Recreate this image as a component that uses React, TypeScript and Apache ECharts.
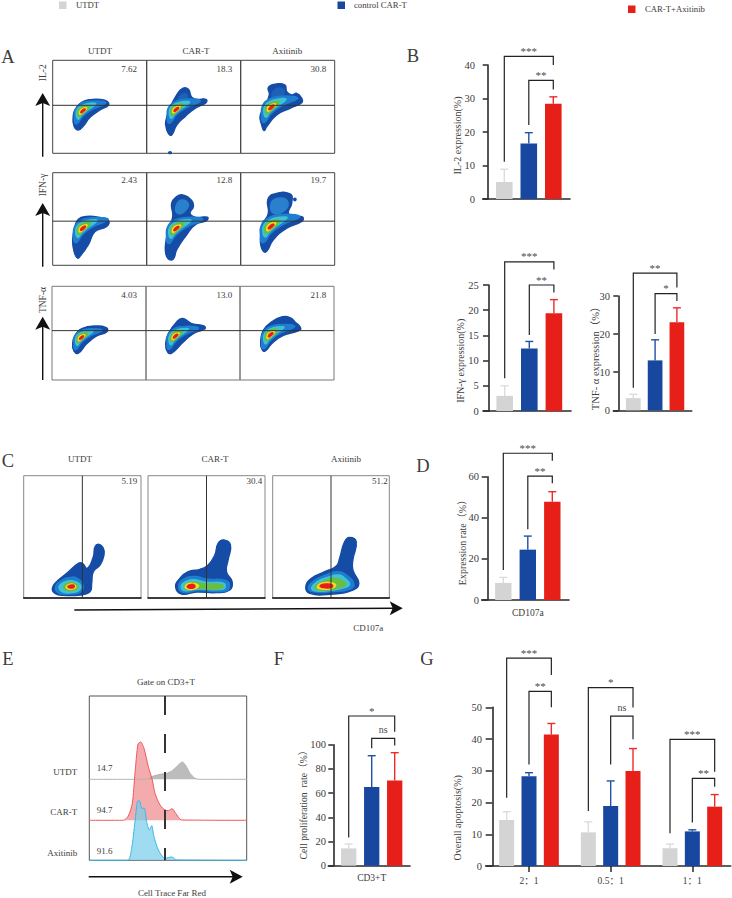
import { useEffect, useRef } from 'react'
import * as echarts from 'echarts'

type Pt = number[]
type Bracket = [number, number, number, number, number, string]

const FONT = '"Liberation Serif", "Noto Sans CJK SC", serif'
const TEXT = '#3c3c3c'
const GROUP_COLORS = ['#d4d4d4', '#17479e', '#e71f19']
const ERR_COLORS = ['#dcdcdc', '#1f52a8', '#ee2a2a']
const LEVEL_COLORS = ['#1f7ed0', '#3ec3d6', '#69bd40', '#efdd24', '#ec1c1c']
const OUTER_COLOR = '#154ca6'

// legend + labels
const groupNames = ['UTDT', 'control CAR-T', 'CAR-T+Axitinib']
const sampleNames = ['UTDT', 'CAR-T', 'Axitinib']
const aValues = [
  ['7.62', '18.3', '30.8'],
  ['2.43', '12.8', '19.7'],
  ['4.03', '13.0', '21.8'],
]
const cValues = ['5.19', '30.4', '51.2']
const eValues = ['14.7', '94.7', '91.6']

// bar panels
const il2Values = [5.1, 16.6, 28.4]
const il2Errors = [8.9, 19.8, 30.5]
const il2Brackets: Bracket[] = [[0, 2, 42.6, 11.1, 40, '***'], [1, 2, 35.4, 22.1, 32.7, '**']]

const ifnValues = [3, 12.4, 19.4]
const ifnErrors = [5, 13.8, 22.1]
const ifnBrackets: Bracket[] = [[0, 2, 29.6, 6.5, 28.1, '***'], [1, 2, 25, 15.1, 23.5, '**']]

const tnfValues = [3.2, 13.1, 23.1]
const tnfErrors = [4.2, 18.5, 26.9]
const tnfBrackets: Bracket[] = [[0, 2, 36, 5.9, 32.2, '**'], [1, 2, 30.6, 20, 28.7, '*']]

const cd107Values = [8.3, 24.5, 47.8]
const cd107Errors = [11, 31.1, 52.7]
const cd107Brackets: Bracket[] = [[0, 2, 71.4, 14.6, 67.8, '***'], [1, 2, 60.3, 34.4, 56.8, '**']]

const prolifValues = [14.3, 65, 70.5]
const prolifErrors = [17.9, 90.9, 93.4]
const prolifBrackets: Bracket[] = [[0, 2, 123.7, 23.4, 110.7, '*'], [1, 2, 105.2, 97, 99.4, 'ns']]

const ratioLabels = ['2：1', '0.5：1', '1：1']
const apoValues = [14.5, 28.3, 41.4, 10.6, 18.9, 29.9, 5.6, 10.9, 18.7]
const apoErrors = [17.1, 29.4, 44.9, 13.9, 26.8, 37, 6.9, 11.4, 22.5]
const apoBrackets: Bracket[] = [
  [0, 2, 65.5, 21.5, 60.2, '***'],
  [1, 2, 55, 32, 50, '**'],
  [3, 5, 56.2, 17.3, 49.9, '*'],
  [4, 5, 47.2, 32, 39.9, 'ns'],
  [6, 8, 39.9, 10.3, 29.7, '***'],
  [7, 8, 27.6, 13.7, 25, '**'],
]

// histogram E
const utdtHist = [[0, 243], [172, 243], [187, 251], [212, 258], [232, 261], [247, 268], [262, 281], [279, 295], [290, 283], [302, 261], [317, 246], [332, 243], [472, 243]]
const carHist = [[0, 120], [102, 120], [117, 133], [129, 171], [137, 261], [146, 349], [154, 355], [164, 336], [177, 281], [189, 241], [197, 201], [212, 166], [227, 151], [237, 149], [248, 155], [259, 141], [277, 121], [472, 120]]
const axiHist = [[0, 0], [115, 0], [127, 36], [137, 116], [146, 179], [152, 177], [157, 156], [165, 156], [172, 116], [180, 91], [187, 104], [194, 71], [207, 31], [227, 6], [247, 10], [262, 1], [472, 0]]
const gatePos = [[227, 493], [227, 0]]

// density contours, in panel units (282 x 279, y from the top)
const a11 = [[62, 164], [70, 144], [87, 126], [112, 118], [147, 118], [164, 124], [167, 135], [142, 149], [112, 171], [92, 197], [77, 209], [64, 197]]
const a12 = [[57, 184], [67, 149], [90, 104], [108, 84], [125, 87], [135, 111], [150, 117], [178, 117], [178, 127], [145, 144], [115, 169], [90, 194], [75, 224], [65, 219], [58, 199]]
const a13 = [[58, 169], [68, 144], [86, 104], [83, 81], [108, 71], [133, 74], [138, 94], [153, 104], [168, 99], [183, 114], [183, 127], [148, 144], [108, 164], [78, 199], [70, 211], [63, 194]]
const a21 = [[60, 202], [67, 162], [77, 140], [100, 132], [137, 134], [167, 144], [162, 162], [127, 177], [107, 217], [82, 252], [74, 257], [64, 237]]
const a22 = [[57, 212], [65, 172], [78, 132], [75, 92], [90, 72], [108, 67], [135, 84], [140, 102], [130, 122], [145, 134], [182, 134], [180, 144], [145, 157], [120, 187], [90, 232], [80, 260], [65, 260], [57, 242]]
const a23 = [[60, 197], [68, 152], [83, 122], [81, 82], [98, 65], [148, 64], [153, 92], [143, 122], [163, 132], [186, 134], [183, 147], [138, 167], [98, 202], [78, 237], [68, 237], [60, 217]]
const a31 = [[62, 171], [69, 146], [89, 126], [134, 118], [164, 124], [164, 136], [134, 148], [104, 171], [79, 199], [66, 193]]
const a32 = [[59, 171], [67, 141], [92, 106], [110, 96], [137, 111], [174, 118], [177, 126], [142, 141], [112, 166], [77, 199], [65, 196]]
const a33 = [[62, 166], [70, 131], [95, 106], [125, 91], [150, 93], [165, 106], [182, 124], [175, 133], [130, 146], [95, 171], [75, 193], [65, 186]]

// inner density levels shared by panel A, relative to the peak
const coreLevels = [
  [[-24, 20], [-22, -4], [-6, -22], [22, -30], [60, -30], [70, -24], [30, -6], [2, 14], [-14, 36], [-22, 36]],
  [[-18, 12], [-15, -6], [0, -18], [24, -24], [40, -22], [14, -2], [-4, 14], [-12, 24]],
  [[-14, 8], [-10, -7], [4, -15], [20, -17], [18, -8], [4, 4], [-9, 15]],
  [[-9, 4], [-5, -5], [5, -10], [13, -10], [8, -3], [-2, 6], [-7, 9]],
  [[-5, 3], [0, -4], [8, -7], [6, -2], [-2, 4]],
]
const aPeaks = [
  [[89, 153], [87, 149], [90, 143]],
  [[89, 169], [87, 170], [89, 164]],
  [[87, 154], [87, 150], [90, 146]],
]
const aScales = [
  [1, 1.05, 1.15],
  [1.1, 1.15, 1.25],
  [0.9, 1, 1.05],
]
const aOutlines = [[a11, a12, a13], [a21, a22, a23], [a31, a32, a33]]
const aGateY = [135, 146, 132]
// faint brighter lobes above the gate
const aLobes: Record<string, Pt[]> = {
  '0,1': [[100, 108], [115, 100], [122, 112], [110, 125], [95, 125]],
  '0,2': [[100, 90], [125, 85], [130, 100], [110, 120], [95, 115]],
  '1,1': [[88, 100], [105, 82], [125, 95], [112, 118], [92, 122]],
  '1,2': [[92, 90], [120, 76], [142, 90], [130, 115], [98, 122]],
}
const aSpecks: Record<string, Pt[]> = {
  '0,1': [[67, 275], [73, 275], [73, 279], [67, 279]],
  '1,2': [[160, 78], [165, 78], [165, 83], [160, 83]],
}

const c1 = [[86, 338], [99, 318], [129, 293], [164, 263], [176, 263], [191, 278], [209, 243], [214, 213], [226, 206], [239, 218], [241, 238], [229, 268], [209, 288], [204, 323], [199, 348], [169, 358], [119, 359], [94, 353]]
const c2 = [[83, 333], [96, 308], [121, 288], [156, 281], [181, 268], [201, 238], [211, 203], [228, 193], [248, 208], [241, 253], [236, 288], [253, 318], [246, 343], [206, 351], [146, 349], [101, 355]]
const c3 = [[100, 333], [117, 308], [157, 288], [192, 271], [202, 248], [217, 198], [232, 185], [252, 198], [242, 253], [242, 283], [260, 323], [242, 343], [182, 355], [112, 353]]
const c1Levels = [
  [[95, 336], [108, 318], [140, 305], [165, 310], [178, 330], [170, 350], [135, 355], [105, 352]],
  [[106, 335], [120, 320], [145, 315], [168, 325], [170, 340], [150, 350], [120, 350]],
  [[120, 332], [140, 320], [160, 328], [160, 340], [140, 345], [125, 342]],
  [[128, 332], [142, 325], [155, 330], [155, 337], [140, 341], [130, 338]],
  [[133, 332], [148, 328], [152, 333], [145, 337], [135, 336]],
]
const c2Levels = [
  [[92, 332], [105, 312], [140, 302], [175, 310], [235, 315], [245, 332], [232, 346], [150, 345], [105, 350]],
  [[100, 332], [115, 317], [140, 312], [175, 320], [225, 322], [232, 335], [220, 342], [150, 340], [110, 345]],
  [[110, 332], [125, 320], [145, 320], [170, 325], [220, 326], [225, 334], [210, 340], [150, 338], [120, 342]],
  [[112, 332], [125, 323], [145, 325], [152, 332], [140, 340], [120, 340]],
  [[118, 332], [130, 326], [140, 329], [140, 335], [125, 338]],
]
const c3Levels = [
  [[108, 335], [125, 315], [160, 298], [195, 288], [225, 300], [245, 325], [235, 340], [180, 348], [120, 348]],
  [[118, 335], [135, 318], [165, 305], [200, 298], [220, 310], [232, 325], [220, 335], [170, 345], [125, 345]],
  [[128, 333], [150, 318], [190, 308], [220, 322], [212, 333], [170, 342], [135, 342]],
  [[135, 332], [150, 322], [180, 322], [190, 330], [170, 340], [140, 339]],
  [[143, 331], [160, 325], [180, 328], [178, 335], [155, 336]],
]

const option: any = {
  animation: false,
  backgroundColor: '#fff',
  textStyle: { fontFamily: FONT },
  grid: [],
  xAxis: [],
  yAxis: [],
  series: [],
  graphic: { elements: [] },
}

const addAxes = (grid: any, xAxis: any, yAxis: any) => {
  const gridIndex = option.grid.length
  option.grid.push({ containLabel: false, ...grid })
  option.xAxis.push({ gridIndex, ...xAxis })
  option.yAxis.push({ gridIndex, ...yAxis })
  return gridIndex
}

// one density plot: filled contours and the quadrant gate
function addFlow(
  box: number[],
  borderColor: string,
  shapes: { points: Pt[]; fill: string }[],
  gate: { x?: number; y?: number },
  bottomLine?: boolean,
) {
  const [left, top, width, height] = box
  const idx = addAxes(
    { show: true, left, top, width, height, borderColor, borderWidth: 1, backgroundColor: 'transparent' },
    {
      type: 'value', min: 0, max: 282, show: !!bottomLine, position: 'bottom',
      axisLine: { show: !!bottomLine, onZero: false, lineStyle: { color: '#111', width: 1.6 } },
      axisTick: { show: false }, axisLabel: { show: false }, splitLine: { show: false },
    },
    { type: 'value', min: 0, max: 279, inverse: true, show: false, splitLine: { show: false } },
  )
  option.series.push({
    type: 'custom', xAxisIndex: idx, yAxisIndex: idx, silent: true, data: [[0]],
    renderItem: (_: any, api: any) => {
      const children: any[] = shapes.map((s) => ({
        type: 'polygon',
        shape: { points: s.points.map((p) => api.coord(p)), smooth: 0.5 },
        style: { fill: s.fill, stroke: s.fill, lineWidth: 1.4, lineJoin: 'round' },
      }))
      const a = gate.x !== undefined ? api.coord([gate.x, 0]) : api.coord([0, gate.y])
      const b = gate.x !== undefined ? api.coord([gate.x, 279]) : api.coord([282, gate.y])
      children.push({
        type: 'line',
        shape: { x1: a[0], y1: a[1], x2: b[0], y2: b[1] },
        style: { stroke: '#333', lineWidth: 1 },
      })
      return { type: 'group', children }
    },
  })
}

interface BarPanel {
  axisX: number
  labelGap: number
  xRange: number[]
  yRange: number[]
  first: number
  step: number
  barW: number
  yMax: number
  yStep: number
  xs: number[]
  values: number[]
  errors: number[]
  brackets: Bracket[]
  xTicks?: number[]
  xLabels?: string[]
  showTicks?: boolean
}

function addBars(p: BarPanel) {
  const [x0, x1] = p.xRange
  const [y0, y1] = p.yRange
  const idx = addAxes(
    { left: x0, top: y0, width: x1 - x0, height: y1 - y0 },
    {
      type: 'value',
      min: (x0 - p.first) / p.step,
      max: (x1 - p.first) / p.step,
      axisLine: { show: true, onZero: false, lineStyle: { color: '#2a2a2a', width: 1.6 } },
      axisTick: p.showTicks
        ? { show: true, customValues: p.xTicks, length: 6, lineStyle: { color: '#2a2a2a', width: 1.5 } }
        : { show: false },
      axisLabel: p.xTicks
        ? {
            show: true, customValues: p.xTicks, margin: p.showTicks ? 10 : 8,
            color: TEXT, fontSize: 9.5, fontFamily: FONT,
            formatter: (v: number) => p.xLabels![p.xTicks!.indexOf(v)],
          }
        : { show: false },
      splitLine: { show: false },
    },
    {
      type: 'value', min: 0, max: p.yMax, interval: p.yStep,
      offset: -(p.axisX - x0),
      axisLine: { show: true, onZero: false, lineStyle: { color: '#2a2a2a', width: 1.6 } },
      axisTick: { show: true, length: p.axisX - x0, lineStyle: { color: '#2a2a2a', width: 1.5 } },
      axisLabel: { color: TEXT, fontSize: 10.5, fontFamily: FONT, margin: p.labelGap },
      splitLine: { show: false },
    },
  )
  option.series.push({
    type: 'bar', xAxisIndex: idx, yAxisIndex: idx, barWidth: p.barW, silent: true,
    data: p.values.map((v, i) => ({
      value: [p.xs[i], v],
      itemStyle: { color: GROUP_COLORS[i % 3] },
    })),
  })
  option.series.push({
    type: 'custom', xAxisIndex: idx, yAxisIndex: idx, silent: true, z: 3,
    data: p.values.map((v, i) => [p.xs[i], v, p.errors[i]]),
    renderItem: (params: any, api: any) => {
      const base = api.coord([api.value(0), api.value(1)])
      const top = api.coord([api.value(0), api.value(2)])
      const stroke = ERR_COLORS[params.dataIndex % 3]
      return {
        type: 'group',
        children: [
          { type: 'line', shape: { x1: base[0], y1: base[1], x2: top[0], y2: top[1] }, style: { stroke, lineWidth: 1.4 } },
          { type: 'line', shape: { x1: top[0] - 4, y1: top[1], x2: top[0] + 4, y2: top[1] }, style: { stroke, lineWidth: 1.4 } },
        ],
      }
    },
  })
  option.series.push({
    type: 'custom', xAxisIndex: idx, yAxisIndex: idx, silent: true, z: 4, clip: false,
    data: p.brackets.map((b) => [p.xs[b[0]], p.xs[b[1]], b[2], b[3], b[4]]),
    renderItem: (params: any, api: any) => {
      const [xa, xb, top, lo, ro] = [0, 1, 2, 3, 4].map((d) => api.value(d))
      const pts = [api.coord([xa, lo]), api.coord([xa, top]), api.coord([xb, top]), api.coord([xb, ro])]
      const text = p.brackets[params.dataIndex][5]
      const ns = text === 'ns'
      return {
        type: 'group',
        children: [
          { type: 'polyline', shape: { points: pts }, style: { stroke: '#222', lineWidth: 1.2, fill: 'none' } },
          {
            type: 'text',
            style: {
              text, x: (pts[1][0] + pts[2][0]) / 2, y: pts[1][1] - (ns ? 4 : 0),
              textAlign: 'center', textVerticalAlign: 'bottom',
              fill: '#4a4a4a', font: `${ns ? 10 : 11}px ${FONT}`,
            },
          },
        ],
      }
    },
  })
}

const label = (text: string, x: number, y: number, size = 9, align = 'center', rotate = 0) => ({
  type: 'text', x, y, rotation: rotate, z: 10, silent: true,
  style: { text, fill: TEXT, font: `${size}px ${FONT}`, textAlign: align, textVerticalAlign: 'middle' },
})

const square = (x: number, y: number, fill: string) => ({
  type: 'rect', x, y, shape: { width: 7.5, height: 7.5 }, style: { fill }, z: 10, silent: true,
})

const arrowUp = (x: number, bottom: number, top: number) => [
  { type: 'line', z: 10, silent: true, shape: { x1: x, y1: bottom, x2: x, y2: top + 8 }, style: { stroke: '#111', lineWidth: 1.4 } },
  { type: 'polygon', z: 10, silent: true, shape: { points: [[x, top], [x + 7.5, top + 13], [x, top + 10], [x - 7.5, top + 13]] }, style: { fill: '#111' } },
]

const arrowRight = (x0: number, y0: number, x1: number, y1: number) => [
  { type: 'line', z: 10, silent: true, shape: { x1: x0, y1: y0, x2: x1 - 8, y2: y1 }, style: { stroke: '#111', lineWidth: 1.6 } },
  { type: 'polygon', z: 10, silent: true, shape: { points: [[x1, y1], [x1 - 13, y1 - 7], [x1 - 10, y1], [x1 - 13, y1 + 7]] }, style: { fill: '#111' } },
]

// ---- panel A
const aRowBoxes = [
  { top: 60.3, height: 93, left: 52.7, color: '#444' },
  { top: 172.7, height: 92.6, left: 52.7, color: '#444' },
  { top: 286.3, height: 93.7, left: 52, color: '#777' },
]
aRowBoxes.forEach((row, r) => {
  ;[0, 1, 2].forEach((c) => {
    const shapes: { points: Pt[]; fill: string }[] = [{ points: aOutlines[r][c], fill: OUTER_COLOR }]
    const key = `${r},${c}`
    if (aSpecks[key]) shapes.push({ points: aSpecks[key], fill: OUTER_COLOR })
    if (aLobes[key]) shapes.push({ points: aLobes[key], fill: r === 1 ? '#2a80cc' : '#1e62b8' })
    coreLevels.forEach((lvl, i) => {
      const [cx, cy] = aPeaks[r][c]
      const s = aScales[r][c]
      shapes.push({ points: lvl.map(([dx, dy]) => [cx + dx * s, cy + dy * s]), fill: LEVEL_COLORS[i] })
    })
    addFlow([row.left + c * 94, row.top, 94, row.height], row.color, shapes, { y: aGateY[r] })
  })
})

// ---- panel C
const cBoxes = [
  [23.7, 475.7, 117.3, 122.3],
  [148, 475.7, 117, 122.3],
  [272.7, 475.7, 116.6, 122.3],
]
const cOutlines = [c1, c2, c3]
const cLevels = [c1Levels, c2Levels, c3Levels]
cBoxes.forEach((box, i) => {
  const shapes = [{ points: cOutlines[i], fill: OUTER_COLOR }].concat(
    cLevels[i].map((points, l) => ({ points, fill: LEVEL_COLORS[l] })),
  )
  addFlow([box[0], box[1], box[2], box[3]], '#888', shapes.map((s) => ({
    // panel C is taller and wider than A: contours were read on 352 x 367 units
    points: s.points.map(([x, y]) => [(x / 352) * 282, (y / 367) * 279]),
    fill: s.fill,
  })), { x: (176 / 352) * 282 }, true)
})

// ---- panel E
const eIdx = addAxes(
  { show: true, left: 89.3, top: 696, width: 157.4, height: 164.3, borderColor: '#555', borderWidth: 1, backgroundColor: 'transparent' },
  { type: 'value', min: 0, max: 472, show: false, splitLine: { show: false } },
  { type: 'value', min: 0, max: 493, show: false, splitLine: { show: false } },
)
const histSeries = (data: number[][], base: number, line: string, fill: string) => ({
  type: 'line', xAxisIndex: eIdx, yAxisIndex: eIdx, data, symbol: 'none', silent: true, clip: false,
  lineStyle: { color: line, width: 1 },
  areaStyle: { origin: base, color: fill, opacity: 1 },
  smooth: 0.25,
})
option.series.push(
  histSeries(utdtHist, 243, '#b4b4b4', '#bcbcbc'),
  histSeries(carHist, 120, '#f0575c', 'rgba(238,120,125,0.62)'),
  histSeries(axiHist, 0, '#3bb8e6', 'rgba(120,205,235,0.7)'),
  {
    type: 'line', xAxisIndex: eIdx, yAxisIndex: eIdx, data: gatePos, symbol: 'none', silent: true, z: 5,
    lineStyle: { color: '#333', width: 2, type: [19, 19] },
  },
)

// ---- bar panels
const three = [0, 1, 2]
addBars({ axisX: 487.7, labelGap: 12.7, xRange: [482.7, 570], yRange: [65, 199], first: 504.3, step: 24.5, barW: 16.6, yMax: 40, yStep: 10, xs: three, values: il2Values, errors: il2Errors, brackets: il2Brackets })
addBars({ axisX: 488.7, labelGap: 10, xRange: [483, 571], yRange: [285, 411], first: 504.7, step: 24.6, barW: 16.6, yMax: 25, yStep: 5, xs: three, values: ifnValues, errors: ifnErrors, brackets: ifnBrackets })
addBars({ axisX: 618.3, labelGap: 8.3, xRange: [613.3, 691.7], yRange: [296, 410.3], first: 633.3, step: 21.8, barW: 14.7, yMax: 30, yStep: 10, xs: three, values: tnfValues, errors: tnfErrors, brackets: tnfBrackets })
addBars({ axisX: 487.3, labelGap: 8.3, xRange: [481.7, 569], yRange: [476.7, 600], first: 503.3, step: 24.5, barW: 16.4, yMax: 60, yStep: 20, xs: three, values: cd107Values, errors: cd107Errors, brackets: cd107Brackets, xTicks: [1], xLabels: ['CD107a'] })
addBars({ axisX: 333.3, labelGap: 7.3, xRange: [328.3, 410], yRange: [744.7, 865.7], first: 348.7, step: 23, barW: 15.3, yMax: 100, yStep: 20, xs: three, values: prolifValues, errors: prolifErrors, brackets: prolifBrackets, xTicks: [1], xLabels: ['CD3+T'] })
const ratioCentres = [0, 1, 2]
const apoXs = ratioCentres.flatMap((c) => [c - 0.2735, c, c + 0.2735])
addBars({ axisX: 492.3, labelGap: 10.3, xRange: [485.7, 730.7], yRange: [707.3, 866], first: 529, step: 81.67, barW: 15, yMax: 50, yStep: 10, xs: apoXs, values: apoValues, errors: apoErrors, brackets: apoBrackets, xTicks: ratioCentres, xLabels: ratioLabels, showTicks: true })

// ---- texts and arrows
const ge: any[] = option.graphic.elements
const UP = Math.PI / 2
ge.push(
  square(59, 1.5, GROUP_COLORS[0]),
  label(groupNames[0], 76, 5, 8.7, 'left'),
  square(337.5, 1.5, GROUP_COLORS[1]),
  label(groupNames[1], 354, 5, 8.7, 'left'),
  square(628, 5.5, GROUP_COLORS[2]),
  label(groupNames[2], 645, 9, 8.7, 'left'),
  label('A', 8, 57, 18.5),
  label('B', 413, 56, 18.5),
  label('C', 8, 461, 18.5),
  label('D', 423, 466, 18.5),
  label('E', 8, 659, 18.5),
  label('F', 279, 659, 18.5),
  label('G', 427, 659, 18.5),
  label('IL-2', 42.7, 72.7, 9.5, 'center', UP),
  label('IFN-γ', 42.7, 185, 9.5, 'center', UP),
  label('TNF-α', 42.7, 300, 9.5, 'center', UP),
  label('CD107a', 368.3, 627.7, 9),
  label('Gate on CD3+T', 166, 682, 9),
  label('Cell Trace Far Red', 172, 893, 9),
  label('IL-2 expression(%)', 457, 135.5, 10, 'center', UP),
  label('IFN-γ expression(%)', 460.7, 360.8, 10, 'center', UP),
  label('TNF- α expression（%）', 595, 355.8, 10.5, 'center', UP),
  label('Expression rate（%）', 462.3, 540, 10, 'center', UP),
  label('Cell proliferation  rate（%）', 303, 802.5, 9.7, 'center', UP),
  label('Overall apoptosis(%)', 457.7, 817.8, 10, 'center', UP),
)
;[100, 196, 287.3].forEach((x, i) => ge.push(label(sampleNames[i], x, 51)))
;[80, 215, 346].forEach((x, i) => ge.push(label(sampleNames[i], x, 459.3)))
;[137, 232.3, 326.3].forEach((x, c) => {
  ;[69, 180, 295].forEach((y, r) => ge.push(label(aValues[r][c], x, y, 9, 'right')))
})
;[137.3, 262.3, 387.7].forEach((x, i) => ge.push(label(cValues[i], x, 481.3, 9, 'right')))
;[772.3, 812.3, 853.3].forEach((y, i) => ge.push(label(sampleNames[i], 77.3, y, 9, 'right')))
;[768, 810.3, 851].forEach((y, i) => ge.push(label(eValues[i], 96.7, y, 9, 'left')))
ge.push(
  ...arrowUp(42.7, 156.7, 93),
  ...arrowUp(42.7, 266.7, 203),
  ...arrowUp(42.7, 380, 316.7),
  ...arrowRight(74.3, 610, 402.7, 608.3),
  ...arrowRight(88.7, 876.7, 242.7, 876.7),
)

export default function App() {
  const elRef = useRef<HTMLDivElement>(null)

  useEffect(() => {
    if (!elRef.current) return
    const chart = echarts.init(elRef.current, undefined, { renderer: 'svg' })
    chart.setOption(option)
    return () => chart.dispose()
  }, [])

  return <div ref={elRef} style={{ position: 'absolute', left: 0, top: 0, width: 732, height: 898 }} />
}
